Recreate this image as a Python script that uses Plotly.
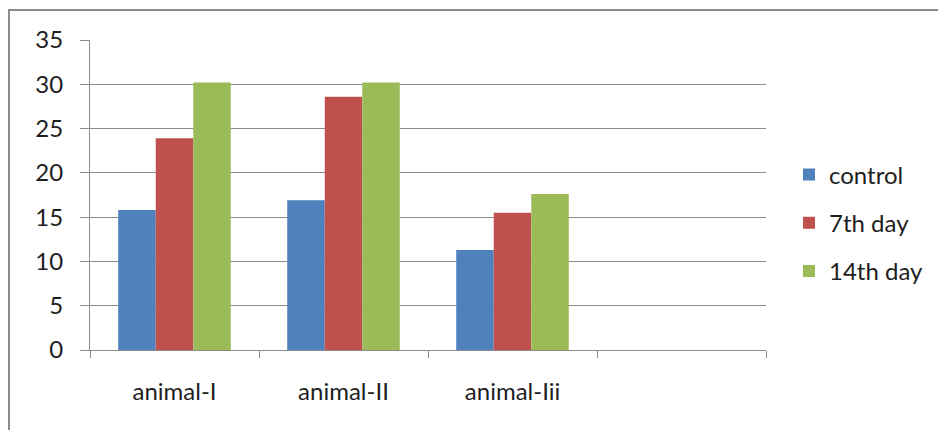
import plotly.graph_objects as go

# Category slots (the fourth slot is left empty on the axis)
categories = ["animal-I", "animal-II", "animal-Iii", " "]
series_names = ["control", "7th day", "14th day"]
control = [15.8, 16.9, 11.3, None]
day7 = [23.9, 28.6, 15.5, None]
day14 = [30.2, 30.2, 17.6, None]
y_ticks = [0, 5, 10, 15, 20, 25, 30, 35]

colors = ["#4F81BD", "#C0504D", "#9BBB59"]
font_family = "Lato, 'Liberation Sans', sans-serif"
text_color = "#1e1e1e"
grid_color = "#8c8c8c"
fs = 24

fig = go.Figure()
for name, vals, col in zip(series_names, [control, day7, day14], colors):
    fig.add_trace(go.Bar(
        x=categories, y=vals, name=name, legendgroup=name,
        marker=dict(color=col, line=dict(width=0)),
    ))

W, H = 938, 430
ml, mr, mt, mb = 90, 172, 40, 80
pw, ph = W - ml - mr, H - mt - mb

def px_x(p):
    return (p - ml) / pw

def px_y(p):
    return (H - mb - p) / ph

frame = dict(color="#8a8a8a", width=2)
shapes = [
    dict(type="line", xref="paper", yref="paper",
         x0=px_x(9), x1=px_x(9), y0=px_y(9), y1=px_y(H + 5), line=frame),
    dict(type="line", xref="paper", yref="paper",
         x0=px_x(8), x1=px_x(W + 5), y0=px_y(10), y1=px_y(10), line=frame),
]

fig.update_layout(
    width=W, height=H,
    margin=dict(l=ml, r=mr, t=mt, b=mb, pad=0, autoexpand=False),
    paper_bgcolor="white", plot_bgcolor="white",
    barmode="group", bargap=0.334, bargroupgap=0,
    font=dict(family=font_family, size=fs, color=text_color),
    showlegend=True,
    legend=dict(
        x=px_x(789), xanchor="left",
        y=px_y(223), yanchor="middle",
        tracegroupgap=14,
        font=dict(family=font_family, size=fs, color=text_color),
        bgcolor="rgba(0,0,0,0)",
    ),
    shapes=shapes,
    xaxis=dict(
        type="category", categoryorder="array", categoryarray=categories,
        range=[-0.5, 3.5],
        showgrid=False, showline=True, linecolor=grid_color, linewidth=1,
        ticks="outside", tickson="boundaries", ticklen=7, tickcolor=grid_color,
        ticklabelstandoff=20,
        tickfont=dict(family=font_family, size=fs, color=text_color),
        zeroline=False,
    ),
    yaxis=dict(
        range=[0, 35], tickvals=y_ticks,
        showgrid=True, gridcolor=grid_color, gridwidth=1,
        showline=True, linecolor=grid_color, linewidth=1,
        ticks="outside", ticklen=9, tickcolor=grid_color,
        ticklabelstandoff=12,
        tickfont=dict(family=font_family, size=fs, color=text_color),
        zeroline=False,
    ),
)

fig.write_html("out.html")
